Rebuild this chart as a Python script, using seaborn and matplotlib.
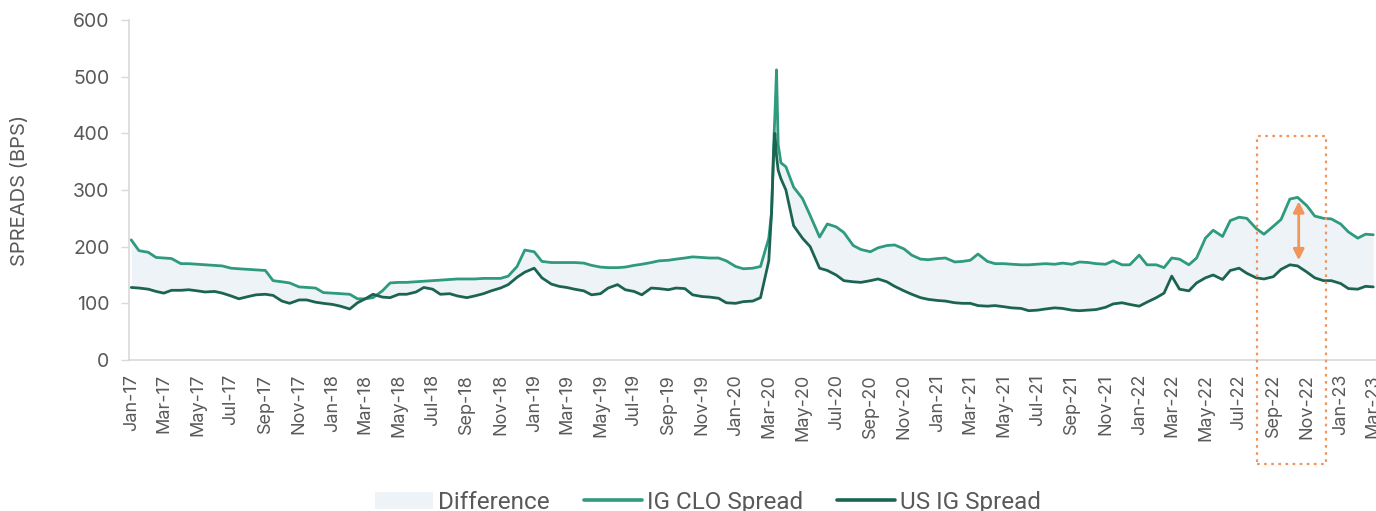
import pandas as pd
import numpy as np
import matplotlib
matplotlib.use("Agg")
import matplotlib.pyplot as plt
import matplotlib.dates as mdates
from matplotlib.patches import Rectangle, Patch
from matplotlib.lines import Line2D
import seaborn as sns

# semi-monthly readings (1st and 15th), Jan-17 .. Mar-23
dates = pd.date_range("2017-01-01", "2023-03-01", freq="SMS")

clo_spread = [
    212, 193, 190, 181, 180, 179, 170, 170, 169, 168, 167, 166,   # 2017 H1
    162, 161, 160, 159, 158, 140, 138, 136, 129, 128, 127, 119,   # 2017 H2
    118, 117, 116, 108, 108, 110, 122, 136, 137, 137, 138, 139,   # 2018 H1
    140, 141, 142, 143, 143, 143, 144, 144, 144, 148, 165, 194,   # 2018 H2
    191, 174, 172, 172, 172, 172, 171, 167, 164, 163, 163, 164,   # 2019 H1
    167, 169, 172, 175, 176, 178, 180, 182, 181, 180, 180, 175,   # 2019 H2
    165, 161, 162, 165, 215, 512, 341, 305, 285, 255, 217, 240,   # 2020 H1
    235, 225, 202, 195, 191, 198, 202, 203, 196, 185, 178, 177,   # 2020 H2
    179, 180, 173, 174, 176, 187, 174, 170, 170, 169, 168, 168,   # 2021 H1
    169, 170, 169, 171, 169, 173, 172, 170, 169, 175, 168, 168,   # 2021 H2
    185, 168, 168, 163, 180, 178, 168, 180, 215, 229, 218, 246,   # 2022 H1
    252, 250, 232, 222, 236, 248, 284, 287, 272, 254, 250, 249,   # 2022 H2
    240, 226, 215, 222, 221,                                      # 2023
]

us_ig_spread = [
    128, 127, 125, 121, 118, 123, 123, 124, 122, 120, 121, 118,
    113, 108, 112, 115, 116, 114, 104, 100, 106, 106, 102, 100,
    98, 95, 90, 101, 108, 116, 111, 110, 116, 116, 120, 128,
    125, 116, 117, 113, 110, 113, 117, 122, 127, 133, 146, 155,
    162, 145, 134, 130, 128, 125, 122, 115, 117, 127, 133, 124,
    121, 115, 127, 126, 124, 127, 126, 115, 112, 111, 109, 101,
    100, 103, 104, 110, 175, 360, 300, 237, 215, 200, 162, 158,
    150, 140, 138, 137, 140, 143, 138, 130, 122, 116, 110, 107,
    105, 104, 101, 100, 100, 96, 95, 96, 94, 92, 91, 87,
    88, 90, 92, 91, 88, 87, 88, 89, 93, 99, 101, 98,
    95, 102, 110, 118, 148, 125, 122, 136, 145, 150, 142, 158,
    162, 153, 145, 143, 147, 160, 168, 166, 155, 145, 140, 140,
    135, 126, 125, 130, 129,
]

# extra readings around the March 2020 spike
spike_dates = pd.to_datetime(["2020-03-06", "2020-03-10", "2020-03-12", "2020-03-18", "2020-03-23"])
spike_clo = [260, 383, 430, 380, 348]
spike_us_ig = [260, 370, 400, 335, 320]

df = pd.DataFrame({"date": list(dates) + list(spike_dates),
                   "IG CLO Spread": clo_spread + spike_clo,
                   "US IG Spread": us_ig_spread + spike_us_ig})
df = df.sort_values("date").reset_index(drop=True)

clo_color = "#2e9a7e"
ig_color = "#1c6452"
fill_color = "#eef3f8"
orange = "#f0965a"
grey = "#595959"

sns.set_style("white")
plt.rcParams["font.family"] = ["Inter", "DejaVu Sans"]

fig = plt.figure(figsize=(13.76, 5.11), dpi=100)
ax = fig.add_axes([129 / 1376, 151 / 511, 1 - 129 / 1376, 340 / 511])

ax.fill_between(df["date"], df["US IG Spread"], df["IG CLO Spread"], color=fill_color, lw=0)

long_df = df.melt(id_vars="date", var_name="series", value_name="bps")
sns.lineplot(data=long_df, x="date", y="bps", hue="series",
             palette={"IG CLO Spread": clo_color, "US IG Spread": ig_color},
             linewidth=2.0, legend=False, ax=ax)

ax.set_xlim(pd.Timestamp("2016-12-28"), pd.Timestamp("2023-03-06"))
ax.set_ylim(0, 600)
ax.set_yticks(range(0, 601, 100))
ax.xaxis.set_major_locator(mdates.MonthLocator(bymonth=[1, 3, 5, 7, 9, 11]))
ax.xaxis.set_major_formatter(mdates.DateFormatter("%b-%y"))
plt.setp(ax.get_xticklabels(), rotation=90, ha="center", va="top")

ax.tick_params(axis="x", length=0, pad=10, labelsize=13, labelcolor=grey)
ax.tick_params(axis="y", length=6, width=1, color="#d9d9d9", pad=8, labelsize=14, labelcolor=grey, left=True)
for side in ["top", "right"]:
    ax.spines[side].set_visible(False)
for side in ["left", "bottom"]:
    ax.spines[side].set_color("#d9d9d9")
    ax.spines[side].set_linewidth(1.2)

ax.set_xlabel("")
ax.set_ylabel("SPREADS (BPS)", fontsize=14.5, color=grey, labelpad=31)

# highlight box and gap arrow
x0 = mdates.date2num(pd.Timestamp("2022-08-02"))
x1 = mdates.date2num(pd.Timestamp("2022-12-05"))
box = Rectangle((x0, -183), x1 - x0, 578, fill=False, edgecolor=orange,
                linestyle=(0, (1.2, 2)), linewidth=1.6, clip_on=False, zorder=5)
ax.add_patch(box)
ax.annotate("", xy=(pd.Timestamp("2022-10-17"), 280), xytext=(pd.Timestamp("2022-10-17"), 176),
            arrowprops=dict(arrowstyle="<|-|>", color=orange, lw=2, mutation_scale=16, shrinkA=0, shrinkB=0))

handles = [Patch(facecolor=fill_color, edgecolor="none"),
           Line2D([], [], color=clo_color, lw=2.6),
           Line2D([], [], color=ig_color, lw=2.6)]
fig.legend(handles, ["Difference", "IG CLO Spread", "US IG Spread"],
           loc="center", bbox_to_anchor=(708 / 1376, 0.017), ncol=3, frameon=False,
           prop={"family": "Roboto", "size": 17.5}, handlelength=2.4, handletextpad=0.2,
           columnspacing=1.4, labelcolor=grey)

fig.savefig("out.png", dpi=100)
